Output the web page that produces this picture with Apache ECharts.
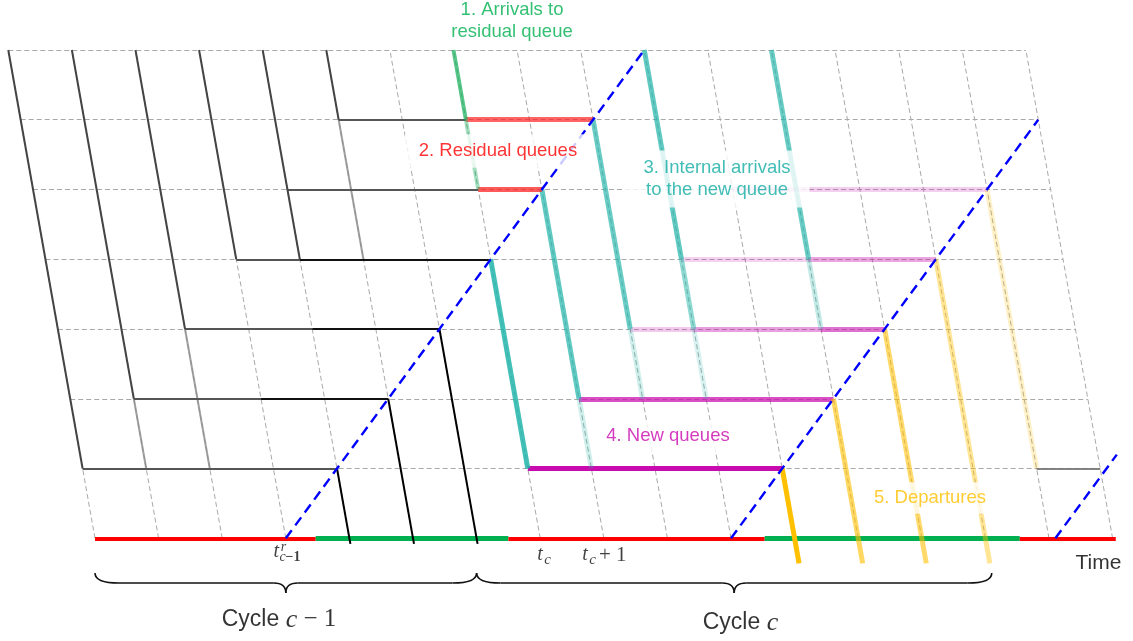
<!DOCTYPE html>
<html><head><meta charset="utf-8">
<script src="https://cdn.jsdelivr.net/npm/echarts@6/dist/echarts.min.js"></script>
<style>html,body{margin:0;padding:0;background:#fff}#c{width:1133px;height:641px}</style>
</head><body><div id="c"></div>
<script>
// ================= DATA (time steps t, queue positions r) =================
const timeTicks = [0,1,2,3,4,5,6,7,8,9,10,11,12,13,14,15,16];
const queueRows = [0,1,2,3,4,5,6,7];
// signal phases along the time axis
const phaseStart = [0, 3.47, 6.5, 10.53, 14.54];
const phaseEnd   = [3.47, 6.5, 10.53, 14.54, 16.05];
const phaseState = ['red', 'green', 'red', 'green', 'red'];
// segments: [t1, r1, t2, r2]
const dischargeWaves   = [[3,0,10,7],[10,0,16,6],[15.1,0,16.3,1.2]];
const prevArrivals     = [[0,7,0,1],[1,7,1,2],[2,7,2,3],[3,7,3,4],[4,7,4,4],[5,7,5,6]];
const prevTrails       = [[1,2,1,1],[2,3,2,1],[5,6,5,4]];
const prevQueuesEarly  = [[0,1,4,1],[1,2,3,2],[2,3,4,3],[3,4,4,4],[4,5,7,5],[5,6,7,6]];
const prevQueuesLate   = [[3,2,5,2],[4,3,6,3],[4,4,7,4]];
const prevDepartures   = [[4,1,4,-0.08],[5,2,5,-0.08],[6,3,6,-0.08]];
const residualArrivals = [[7,7,7,6],[7,6,7,5]];
const residualQueues   = [[7,6,9,6],[7,5,8,5]];
const internalArrivals = [[7,4,7,1],[8,5,8,2],[8,2,8,1],[9,6,9,3],[9,3,9,2],
                          [10,7,10,4],[10,4,10,3],[10,3,10,2],[12,7,12,4],[12,4,12,3]];
const newQueues        = [[7,1,11,1],[8,2,12,2],[9,3,13,3],[10,3,13,3],[12,3,13,3],
                          [10,4,14,4],[12,4,14,4],[11,5,15,5]];
const departures       = [[11,1,11,-0.36],[12,2,12,-0.36],[13,3,13,-0.36],[14,4,14,-0.36],[15,5,15,1]];
const nextQueue        = [[15,1,16,1]];
const cycleBounds      = [0, 6, 14.1];
const cycleNames       = ['c − 1', 'c'];
const stageLabels      = ['1. Arrivals to\nresidual queue', '2. Residual queues',
                          '3. Internal arrivals\nto the new queue', '4. New queues', '5. Departures'];
const timeAxisName     = 'Time';

// ================= LAYOUT / STYLE =================
const SKEW = 0.1948;                 // lattice lean: time shift per queue row
const CELL = 63.6, ROWH = 69.76, OX = 95, OY = 538.3, W = 1133, H = 641;
const X_MIN = -OX / CELL, X_MAX = (W - OX) / CELL;
const Y_MAX = OY / ROWH, Y_MIN = -(H - OY) / ROWH;
const P = (t, r) => [t - SKEW * r, r];

const internalOpacity = [0.85, 0.72, 0.22, 0.68, 0.22, 0.72, 0.5, 0.18, 0.68, 0.28];
const newQueueOpacity = [1, 0.72, 0.22, 0.22, 0.3, 0.18, 0.22, 0.2];
const departureOpacity = [1, 0.62, 0.58, 0.42, 0.22];
const residualArrOpacity = [0.72, 0.4];
const residualQOpacity = [0.68, 0.72];
const phaseColor = { red: '#FF0000', green: '#00B050' };
const phaseWidth = { red: 4, green: 5 };

const SANS = 'Liberation Sans, Arial, sans-serif';
const SERIF = 'Liberation Serif, Times New Roman, serif';

function segSeries(segs, style, z, opac) {
  return {
    type: 'lines', coordinateSystem: 'cartesian2d', polyline: false, silent: true,
    animation: false, z: z, lineStyle: style,
    data: segs.map((s, i) => ({
      coords: [P(s[0], s[1]), P(s[2], s[3])],
      lineStyle: Object.assign({}, style, opac ? { opacity: opac[i] } : {})
    }))
  };
}

// grid lattice
const gridSegs = [];
queueRows.forEach(r => gridSegs.push([timeTicks[0], r, timeTicks[timeTicks.length - 1], r]));
timeTicks.forEach(t => gridSegs.push([t, queueRows[0], t, queueRows[queueRows.length - 1]]));

// signal bar
const phaseSeries = phaseState.map((s, i) => segSeries([[phaseStart[i], 0, phaseEnd[i], 0]],
  { color: phaseColor[s], width: phaseWidth[s], opacity: 1 }, 2));

const series = [
  segSeries(gridSegs, { color: '#A9A9A9', width: 1, type: [5, 3], opacity: 1 }, 1),
  ...phaseSeries,
  segSeries(prevTrails, { color: '#8a8a8a', width: 2, opacity: 0.8 }, 3),
  segSeries(prevQueuesEarly, { color: '#555555', width: 2, opacity: 1 }, 3),
  segSeries(prevQueuesLate, { color: '#111111', width: 2, opacity: 1 }, 3),
  segSeries(prevArrivals, { color: '#444444', width: 2, opacity: 1 }, 3),
  segSeries(prevDepartures, { color: '#000000', width: 2, opacity: 1 }, 4),
  segSeries(nextQueue, { color: '#777777', width: 2, opacity: 0.9 }, 3),
  segSeries(newQueues, { color: '#C90AAE', width: 5 }, 4, newQueueOpacity),
  segSeries(internalArrivals, { color: '#22B5AA', width: 5 }, 4, internalOpacity),
  segSeries(residualQueues, { color: '#FF1A1A', width: 5 }, 4, residualQOpacity),
  segSeries(residualArrivals, { color: '#17AE5C', width: 4 }, 4, residualArrOpacity),
  segSeries(departures, { color: '#FFC000', width: 5 }, 4, departureOpacity),
  segSeries(dischargeWaves, { color: '#0000FF', width: 2.4, type: [10, 6], opacity: 1 }, 5)
];

// braces under the cycles
const BR_TOP = -0.497, BR_LINE = -0.641, BR_TIP = -0.785;
series.push({
  type: 'custom', coordinateSystem: 'cartesian2d', silent: true, animation: false, z: 5, clip: false,
  data: cycleBounds.slice(0, -1).map((a, i) => [a, cycleBounds[i + 1]]),
  renderItem: function (params, api) {
    const a = api.value(0), b = api.value(1), m = (a + b) / 2;
    const A = api.coord([a, BR_TOP]), B = api.coord([b, BR_TOP]);
    const M = api.coord([m, BR_TIP]), ly = api.coord([a, BR_LINE])[1];
    const qe = 24, qm = 12;
    const st = { stroke: '#111', lineWidth: 1.6, fill: 'none' };
    return {
      type: 'group', children: [
        { type: 'bezierCurve', shape: { x1: A[0], y1: A[1], x2: A[0] + qe, y2: ly, cpx1: A[0], cpy1: ly }, style: st },
        { type: 'line', shape: { x1: A[0] + qe, y1: ly, x2: M[0] - qm, y2: ly }, style: st },
        { type: 'bezierCurve', shape: { x1: M[0] - qm, y1: ly, x2: M[0], y2: M[1], cpx1: M[0], cpy1: ly }, style: st },
        { type: 'bezierCurve', shape: { x1: M[0] + qm, y1: ly, x2: M[0], y2: M[1], cpx1: M[0], cpy1: ly }, style: st },
        { type: 'line', shape: { x1: M[0] + qm, y1: ly, x2: B[0] - qe, y2: ly }, style: st },
        { type: 'bezierCurve', shape: { x1: B[0], y1: B[1], x2: B[0] - qe, y2: ly, cpx1: B[0], cpy1: ly }, style: st }
      ]
    };
  }
});

// text annotations
const stageColor = ['#00B050', '#FF0000', '#12ADA2', '#C90AAE', '#FFC000'];
const stageAnchor = [[6.557, 7.415], [6.336, 5.553], [9.78, 5.151], [9.009, 1.466], [13.129, 0.578]];
const stagePad = [[0, 0], [6, 14], [7, 19], [5, 10], [5, 10]];
const texts = [];
stageLabels.forEach((s, i) => texts.push({
  value: stageAnchor[i],
  label: { formatter: s, color: stageColor[i], fontSize: 18.5, fontFamily: SANS, lineHeight: 21.5,
           backgroundColor: '#ffffff', padding: stagePad[i] }
}));
function mathText(str, xy, size, italic) {
  texts.push({ value: xy, label: { formatter: str, color: '#111', fontSize: size, fontFamily: SERIF,
    fontStyle: italic ? 'italic' : 'normal' } });
}
// t^r_{c-1}
mathText('t', [2.851, -0.192], 20, true);
mathText('r', [2.962, -0.13], 14, true);
mathText('{c|c}{n|−1}', [3.066, -0.272], 14, false);
// t_c
mathText('t', [6.997, -0.24], 20, true);
mathText('c', [7.115, -0.318], 15, true);
// t_c + 1
mathText('t', [7.704, -0.24], 20, true);
mathText('c', [7.822, -0.318], 15, true);
mathText('+ 1', [8.14, -0.24], 21, false);
texts.push({ value: [15.778, -0.354], label: { formatter: timeAxisName, color: '#000', fontSize: 21, fontFamily: SANS } });
const cycleAnchor = [[2.893, -1.169], [10.149, -1.214]];
cycleNames.forEach((n, i) => {
  const parts = n.split(' ');
  const rest = parts.slice(1).join(' ');
  texts.push({
    value: cycleAnchor[i],
    label: {
      formatter: '{a|Cycle }{b|' + parts[0] + '}' + (rest ? '{d| ' + rest + '}' : ''),
      rich: {
        a: { fontFamily: SANS, fontSize: 23, color: '#000' },
        b: { fontFamily: SERIF, fontStyle: 'italic', fontSize: 26, color: '#000' },
        d: { fontFamily: SERIF, fontSize: 25, color: '#000' }
      }
    }
  });
});
// rich sub-styles for the c−1 subscript
texts[7] && (texts[7].label.rich = {
  c: { fontFamily: SERIF, fontStyle: 'italic', fontSize: 14, color: '#111' },
  n: { fontFamily: SERIF, fontSize: 14, color: '#111', fontWeight: 'bold' }
});

series.push({
  type: 'scatter', silent: true, animation: false, z: 10, symbolSize: 1,
  itemStyle: { color: 'rgba(0,0,0,0)' },
  label: { show: true, position: 'inside', align: 'center', verticalAlign: 'middle' },
  data: texts
});

const chart = echarts.init(document.getElementById('c'), null, { renderer: 'canvas' });
chart.setOption({
  animation: false,
  backgroundColor: '#ffffff',
  grid: { left: 0, right: 0, top: 0, bottom: 0, containLabel: false },
  xAxis: { type: 'value', min: X_MIN, max: X_MAX, show: false, splitLine: { show: false } },
  yAxis: { type: 'value', min: Y_MIN, max: Y_MAX, show: false, splitLine: { show: false } },
  series: series
});
</script></body></html>
